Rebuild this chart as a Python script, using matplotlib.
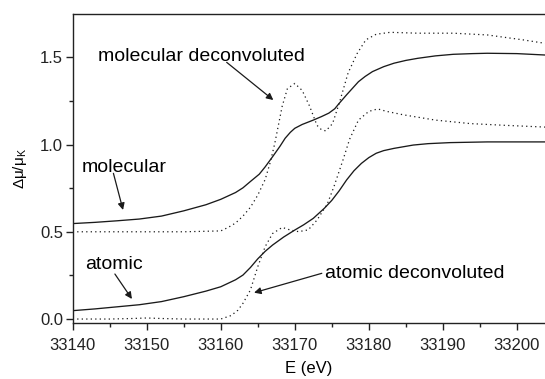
import matplotlib
matplotlib.use("Agg")
import matplotlib.pyplot as plt
from matplotlib.ticker import MultipleLocator

plt.rcParams['font.family'] = ['Liberation Sans', 'DejaVu Sans']
plt.rcParams['mathtext.default'] = 'regular'

# Molecular (solid)
mol_E = [33140, 33143, 33146, 33149, 33152, 33155, 33158, 33160, 33162, 33163, 33164, 33165.2, 33166,
         33167, 33168, 33168.7, 33169.4, 33170, 33171, 33172.5, 33173.6, 33174.6, 33175.4, 33176,
         33177, 33178.6, 33179.5, 33180.5, 33182, 33183.4, 33185, 33186.6, 33189, 33191.4, 33194,
         33196, 33200, 33203.8]
mol_v = [0.547, 0.554, 0.563, 0.573, 0.590, 0.620, 0.655, 0.686, 0.725, 0.752, 0.788, 0.830, 0.872,
         0.930, 0.990, 1.036, 1.070, 1.093, 1.115, 1.140, 1.160, 1.180, 1.205, 1.236,
         1.285, 1.360, 1.390, 1.418, 1.446, 1.466, 1.482, 1.494, 1.508, 1.517, 1.521,
         1.523, 1.521, 1.513]

# Molecular deconvoluted (dotted)
mold_E = [33140, 33145, 33150, 33155, 33160, 33161, 33162, 33163, 33164, 33165, 33166, 33166.7,
          33167.3, 33168.3, 33169, 33170, 33171, 33172, 33173, 33173.6, 33174.2, 33175.1, 33176,
          33177.2, 33178.4, 33179.6, 33181, 33182.9, 33186.6, 33191.4, 33196, 33200.8, 33203.8]
mold_v = [0.500, 0.500, 0.500, 0.500, 0.505, 0.525, 0.550, 0.590, 0.640, 0.710, 0.800, 0.900,
          1.007, 1.220, 1.320, 1.350, 1.310, 1.220, 1.110, 1.085, 1.078, 1.120, 1.236,
          1.410, 1.520, 1.600, 1.632, 1.643, 1.638, 1.638, 1.628, 1.600, 1.580]

# Atomic (solid)
at_E = [33140, 33143, 33146, 33149, 33152, 33155, 33158, 33160, 33162, 33163, 33164, 33165, 33166,
        33167, 33168.5, 33170, 33171.2, 33172.5, 33174, 33175, 33176, 33177, 33178, 33179, 33180,
        33181, 33182, 33183.4, 33186, 33188, 33191, 33196, 33200, 33203.8]
at_v = [0.048, 0.058, 0.070, 0.082, 0.100, 0.128, 0.160, 0.185, 0.225, 0.252, 0.295, 0.345, 0.388,
        0.424, 0.470, 0.510, 0.540, 0.577, 0.635, 0.680, 0.735, 0.797, 0.850, 0.892, 0.925,
        0.950, 0.965, 0.978, 0.997, 1.005, 1.011, 1.015, 1.015, 1.015]

# Atomic deconvoluted (dotted)
atd_E = [33140, 33145, 33148, 33150, 33152, 33155, 33160, 33161.4, 33162.3, 33163, 33164, 33165,
         33166, 33167, 33168.3, 33169.4, 33170.6, 33171.2, 33171.8, 33173, 33174.4, 33175.3,
         33176.5, 33177.4, 33178.6, 33180, 33181.2, 33182.4, 33184.7, 33189, 33193.7, 33198.4,
         33203.8]
atd_v = [0.000, 0.000, 0.003, 0.006, 0.003, 0.000, 0.000, 0.020, 0.050, 0.090, 0.166, 0.300,
         0.415, 0.490, 0.525, 0.510, 0.500, 0.507, 0.510, 0.567, 0.660, 0.760,
         0.910, 1.030, 1.140, 1.190, 1.204, 1.190, 1.170, 1.140, 1.120, 1.110,
         1.100]

xticks = [33140, 33150, 33160, 33170, 33180, 33190, 33200]
yticks = [0.0, 0.5, 1.0, 1.5]

fig = plt.figure(figsize=(5.45, 3.79), dpi=100)
ax = fig.add_axes([72.7 / 545, 1 - 322.7 / 379, 1 - 72.7 / 545, (322.7 - 14) / 379])

lc = '#1a1a1a'
ax.plot(mol_E, mol_v, color=lc, lw=0.95)
ax.plot(at_E, at_v, color=lc, lw=0.95)
ax.plot(mold_E, mold_v, color=lc, lw=0.9, linestyle=(0, (1, 2.6)))
ax.plot(atd_E, atd_v, color=lc, lw=0.9, linestyle=(0, (1, 2.6)))

ax.set_xlim(33140, 33203.8)
ax.set_ylim(-0.021, 1.748)
ax.set_xticks(xticks)
ax.set_xticklabels([str(t) for t in xticks])
ax.set_yticks(yticks)
ax.set_yticklabels(['%.1f' % t for t in yticks])
ax.xaxis.set_minor_locator(MultipleLocator(5))
ax.yaxis.set_minor_locator(MultipleLocator(0.25))
ax.tick_params(which='major', direction='out', length=5, width=1, labelsize=12, colors='#222222')
ax.tick_params(axis='x', which='major', pad=6)
ax.tick_params(axis='y', which='major', pad=2)
ax.tick_params(which='minor', direction='out', length=3, width=1, colors='#222222')
ax.tick_params(axis='x', which='both', top=False)
ax.tick_params(axis='y', which='both', right=False)
ax.spines['right'].set_visible(False)
for s in ['left', 'bottom', 'top']:
    ax.spines[s].set_linewidth(1.0)
    ax.spines[s].set_color('#222222')

ax.set_xlabel('E (eV)', fontsize=12, labelpad=6)
ax.set_ylabel(r'$\Delta\mu/\mu_K$', fontsize=11, labelpad=8)

ap = dict(arrowstyle='-|>', color=lc, lw=0.9, mutation_scale=10, shrinkA=0, shrinkB=0)
fs = 14
ax.text(33143.46, 1.480, 'molecular deconvoluted', fontsize=fs, ha='left', va='baseline')
ax.annotate('', xy=(33167.1, 1.255), xytext=(33160.8, 1.471), arrowprops=ap)
ax.text(33141.2, 0.844, 'molecular', fontsize=fs, ha='left', va='baseline')
ax.annotate('', xy=(33146.8, 0.625), xytext=(33145.5, 0.835), arrowprops=ap)
ax.text(33141.66, 0.285, 'atomic', fontsize=fs, ha='left', va='baseline')
ax.annotate('', xy=(33148.0, 0.115), xytext=(33145.7, 0.258), arrowprops=ap)
ax.text(33174.1, 0.233, 'atomic deconvoluted', fontsize=fs, ha='left', va='baseline')
ax.annotate('', xy=(33164.5, 0.151), xytext=(33173.65, 0.262), arrowprops=ap)

fig.savefig('out.png', dpi=100)
